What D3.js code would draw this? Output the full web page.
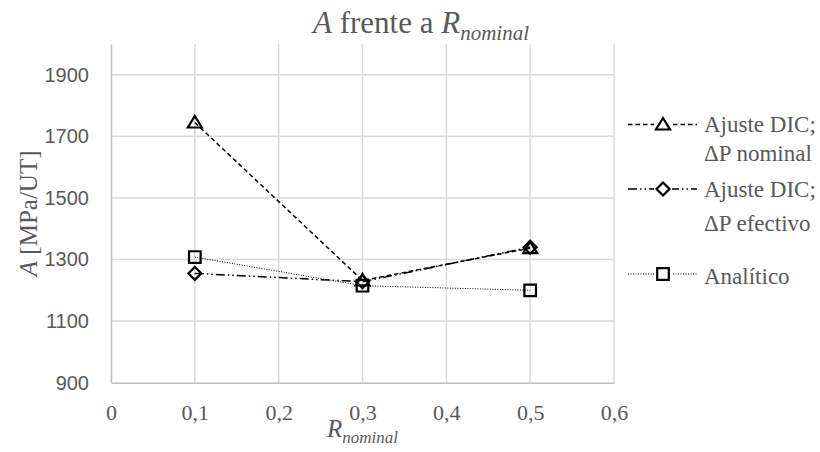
<!DOCTYPE html>
<html><head><meta charset="utf-8">
<script src="https://cdn.jsdelivr.net/npm/d3@7"></script>
<style>body{margin:0;background:#fff}svg{display:block}</style>
</head><body>
<svg id="c" width="820" height="452"></svg>
<script>
const xValues = [0.1, 0.3, 0.5];
const nominalValues = [1745, 1232, 1337];
const efectivoValues = [1255, 1228, 1340];
const analiticoValues = [1308, 1215, 1200];
const xTicks = [0, 0.1, 0.2, 0.3, 0.4, 0.5, 0.6];
const yTicks = [900, 1100, 1300, 1500, 1700, 1900];
const seriesNames = [["Ajuste DIC;", "\u0394P nominal"], ["Ajuste DIC;", "\u0394P efectivo"], ["Anal\u00edtico"]];

const series = [
  {name: seriesNames[0], values: nominalValues, dash: "4.5,3", width: 1.5, marker: "triangle"},
  {name: seriesNames[1], values: efectivoValues, dash: "9,3,1.5,3,1.5,3", width: 1.5, marker: "diamond"},
  {name: seriesNames[2], values: analiticoValues, dash: "1,1.5", width: 1, marker: "square"}
];

const svg = d3.select("#c");
const pL = 111, pR = 614, pT = 44, pB = 382.7;
const x = d3.scaleLinear().domain([0, 0.6]).range([pL, pR]);
const y = d3.scaleLinear().domain([900, 2000]).range([pB, pT]);
const gray = "#595959";
const serif = "'Liberation Serif', 'Times New Roman', 'DejaVu Serif', serif";
const sans = "'Liberation Sans', Arial, sans-serif";

// grid
const g = svg.append("g");
g.selectAll(".vg").data(xTicks.slice(1)).join("line")
  .attr("x1", d => x(d)).attr("x2", d => x(d)).attr("y1", pT).attr("y2", pB)
  .attr("stroke", "#d9d9d9").attr("stroke-width", 1.5);
g.selectAll(".hg").data(yTicks.slice(1)).join("line")
  .attr("x1", pL).attr("x2", pR).attr("y1", d => y(d)).attr("y2", d => y(d))
  .attr("stroke", "#d9d9d9").attr("stroke-width", 1.5);

// axes
const xAxis = d3.axisBottom(x).tickValues(xTicks).tickSize(0).tickPadding(22)
  .tickFormat(d => d3.format(".1~f")(d).replace(".", ","));
const xg = svg.append("g").attr("transform", `translate(0,${pB})`).call(xAxis);
xg.attr("font-family", null).attr("font-size", null);
xg.select(".domain").attr("stroke", "#bfbfbf").attr("stroke-width", 1.5);
xg.selectAll("text").attr("fill", gray).style("font-family", serif).style("font-size", "22px");

const yAxis = d3.axisLeft(y).tickValues(yTicks).tickSize(0).tickPadding(22).tickFormat(d3.format("d"));
const yg = svg.append("g").attr("transform", `translate(${pL},0)`).call(yAxis);
yg.attr("font-family", null).attr("font-size", null);
yg.select(".domain").attr("stroke", "#bfbfbf").attr("stroke-width", 1.5);
yg.selectAll("text").attr("fill", gray).style("font-family", sans).style("font-size", "20px");

// markers
const shapes = {
  triangle: "M0,-6.5L7,5L-7,5Z",
  diamond: "M0,-6.5L6.5,0L0,6.5L-6.5,0Z",
  square: "M-5.8,-5.8H5.8V5.8H-5.8Z"
};
function marker(sel, type) {
  sel.append("path").attr("d", shapes[type])
    .attr("fill", "none").attr("stroke", "#000").attr("stroke-width", 2.2)
    .attr("stroke-linejoin", "miter");
}

const line = d3.line().x((d, i) => x(xValues[i])).y(d => y(d));
series.forEach(s => {
  svg.append("path").attr("d", line(s.values)).attr("fill", "none")
    .attr("stroke", "#000").attr("stroke-width", s.width).attr("stroke-dasharray", s.dash);
});
series.forEach(s => {
  s.values.forEach((v, i) => {
    const m = svg.append("g").attr("transform", `translate(${x(xValues[i])},${y(v)})`);
    marker(m, s.marker);
  });
});

// legend
const legY = [124.5, 189, 274];
const legText = [[132, 161], [197, 231], [284]];
series.forEach((s, k) => {
  const lg = svg.append("g");
  lg.append("line").attr("x1", 628).attr("x2", 697).attr("y1", legY[k]).attr("y2", legY[k])
    .attr("stroke", "#000").attr("stroke-width", s.width).attr("stroke-dasharray", s.dash);
  const m = lg.append("g").attr("transform", `translate(663,${legY[k]})`);
  m.append("rect").attr("x", -9).attr("y", -8).attr("width", 18).attr("height", 16).attr("fill", "#fff");
  marker(m, s.marker);
  s.name.forEach((t, j) => {
    lg.append("text").attr("x", 704).attr("y", legText[k][j]).text(t)
      .attr("fill", gray).style("font-family", serif).style("font-size", "23px");
  });
});

// title
const title = svg.append("text").attr("x", 313).attr("y", 33)
  .attr("fill", gray).style("font-family", serif).style("font-size", "31px");
title.append("tspan").attr("font-style", "italic").text("A");
title.append("tspan").text(" frente a ");
title.append("tspan").attr("font-style", "italic").text("R");
title.append("tspan").attr("font-style", "italic").style("font-size", "21px").attr("dy", 7).text("nominal");

// x title
const xt = svg.append("text").attr("x", (pL + pR) / 2).attr("y", 437).attr("text-anchor", "middle")
  .attr("fill", gray).style("font-family", serif).style("font-size", "25px");
xt.append("tspan").attr("font-style", "italic").text("R");
xt.append("tspan").attr("font-style", "italic").style("font-size", "17px").attr("dy", 6).text("nominal");

// y title
const yt = svg.append("text").attr("transform", `translate(37,${(pT + pB) / 2}) rotate(-90)`)
  .attr("text-anchor", "middle").attr("fill", gray).style("font-family", serif).style("font-size", "25px");
yt.append("tspan").attr("font-style", "italic").text("A");
yt.append("tspan").text(" [MPa/UT]");
</script>
</body></html>
